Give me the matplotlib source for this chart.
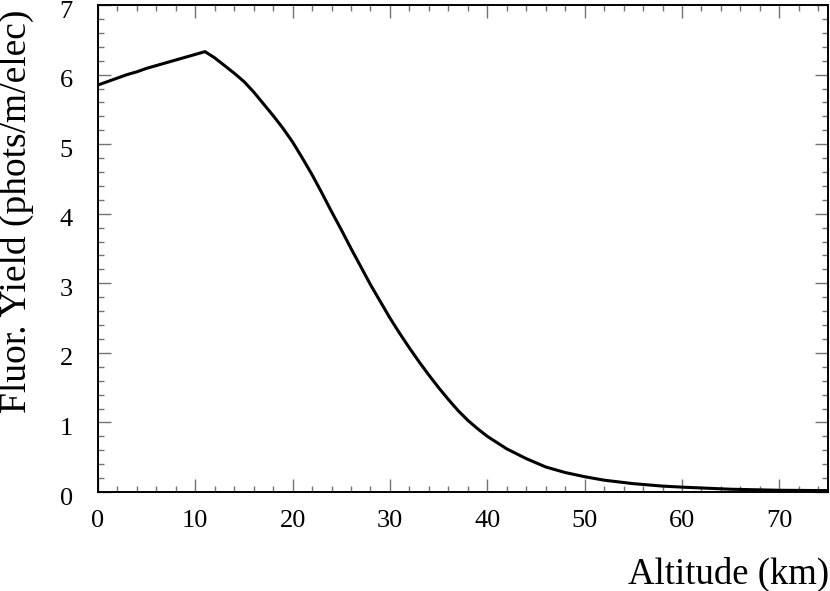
import numpy as np
import matplotlib.pyplot as plt
import matplotlib.transforms as mtransforms
from matplotlib.ticker import MultipleLocator

# fluorescence yield vs altitude
altitude = [0, 1, 2, 3, 4, 5, 6, 7, 8, 9, 10, 11, 12, 13, 14, 15, 16, 17, 18,
            19, 20, 21, 22, 23, 24, 25, 26, 27, 28, 29, 30, 31, 32, 33, 34,
            35, 36, 37, 38, 39, 40, 42, 44, 46, 48, 50, 52, 55, 58, 60, 65,
            70, 75]
yield_ = [5.85, 5.90, 5.95, 6.00, 6.04, 6.09, 6.13, 6.17, 6.21, 6.25, 6.29,
          6.33, 6.24, 6.13, 6.02, 5.90, 5.75, 5.58, 5.41, 5.23, 5.03, 4.80,
          4.56, 4.30, 4.03, 3.77, 3.50, 3.24, 2.98, 2.74, 2.50, 2.28, 2.07,
          1.87, 1.68, 1.50, 1.33, 1.17, 1.03, 0.91, 0.80, 0.62, 0.48, 0.36,
          0.28, 0.22, 0.17, 0.12, 0.085, 0.07, 0.04, 0.025, 0.02]

plt.rcParams['font.family'] = ['Liberation Serif', 'DejaVu Serif']

fig = plt.figure(figsize=(8.3, 5.91), dpi=100)
ax = fig.add_axes([0.118, 0.1675, 0.8796, 0.824])

ax.plot(altitude, yield_, color="black", lw=2.2)

ax.set_xlim(0, 75)
ax.set_ylim(0, 7)
ax.xaxis.set_major_locator(MultipleLocator(10))
ax.xaxis.set_minor_locator(MultipleLocator(2))
ax.yaxis.set_major_locator(MultipleLocator(1))
ax.yaxis.set_minor_locator(MultipleLocator(0.2))

ax.tick_params(which="both", direction="in", top=True, right=True,
               color="0.45", width=1.0, labelsize=19)
ax.tick_params(which="major", length=9.5)
ax.tick_params(which="minor", length=4.3)
ax.tick_params(axis="x", pad=13)
ax.tick_params(axis="y", pad=18)
for s in ax.spines.values():
    s.set_linewidth(1.4)

# y labels sit a few pixels below their ticks, like the original
shift = mtransforms.ScaledTranslation(0, -4 / 100, fig.dpi_scale_trans)
for lab in ax.get_yticklabels():
    lab.set_transform(lab.get_transform() + shift)

ax.set_xlabel("Altitude (km)", fontsize=26.5, ha="right")
ax.xaxis.set_label_coords(1.002, -0.133)
ax.set_ylabel("Fluor. Yield (phots/m/elec)", fontsize=27, ha="right")
ax.yaxis.set_label_coords(-0.087, 0.99)

fig.savefig("out.png", dpi=100)
